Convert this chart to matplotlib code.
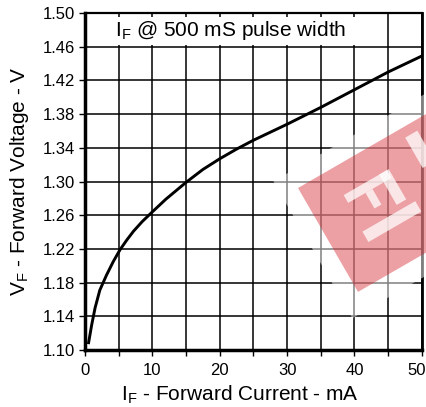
import numpy as np
import matplotlib
matplotlib.use('Agg')
import matplotlib.pyplot as plt
from matplotlib.patches import Polygon, Rectangle
from matplotlib.transforms import ScaledTranslation

plt.rcParams['font.family'] = ['Liberation Sans', 'DejaVu Sans']
plt.rcParams['mathtext.fontset'] = 'custom'
plt.rcParams['mathtext.rm'] = 'Liberation Sans'

# forward current (mA) vs forward voltage (V)
current = [0.5, 1.0, 1.5, 2.2, 3.2, 4.2, 5.2, 6.2, 7.2, 8.5, 10.0, 12.0,
           15.0, 17.5, 20.0, 22.5, 25.0, 30.0, 35.0, 40.0, 45.0, 50.0]
voltage = [1.107, 1.130, 1.150, 1.171, 1.189, 1.205, 1.219, 1.2305, 1.241,
           1.2525, 1.264, 1.279, 1.299, 1.3143, 1.327, 1.3385, 1.349, 1.368,
           1.388, 1.409, 1.430, 1.449]

x_ticks = [0, 10, 20, 30, 40, 50]
x_minor = [5, 15, 25, 35, 45]
y_ticks = [1.10, 1.14, 1.18, 1.22, 1.26, 1.30, 1.34, 1.38, 1.42, 1.46, 1.50]
note = r'I$_{\rm F}$ @ 500 mS pulse width'


def rot_rect(a0, a1, b0, b1):
    # corners of a rectangle in the tilted watermark frame, in figure pixels
    L = np.array([298.0, 188.0])
    u = np.array([0.866, -0.5])
    v = np.array([0.5, 0.866])
    pts = [L + a * u + b * v for a, b in [(a0, b0), (a1, b0), (a1, b1), (a0, b1)]]
    return [(p[0] / 427, 1 - p[1] / 407) for p in pts]


def main():
    fig = plt.figure(figsize=(4.27, 4.07), dpi=100)
    ax = fig.add_axes([0.199, 0.140, 0.789, 0.828])

    ax.plot(current, voltage, color='black', lw=2.1, zorder=4,
            solid_capstyle='butt', solid_joinstyle='round')

    ax.set_xlim(0, 50)
    ax.set_ylim(1.10, 1.50)
    ax.set_xticks(x_ticks)
    ax.set_xticks(x_minor, minor=True)
    ax.set_yticks(y_ticks)
    ax.set_yticklabels(['%.2f' % t for t in y_ticks])
    ax.tick_params(which='both', direction='out', length=4, width=1.0,
                   labelsize=12, pad=3)
    ax.tick_params(axis='x', pad=5)
    ax.set_axisbelow(True)
    ax.grid(True, which='both', color='black', lw=1.1)

    # last x label sits a bit left so it stays inside the picture
    last = ax.get_xticklabels()[-1]
    last.set_transform(last.get_transform() +
                       ScaledTranslation(-4 / 72, 0, fig.dpi_scale_trans))

    for side, w in [('left', 2.5), ('bottom', 2.5), ('top', 1.6), ('right', 2.0)]:
        ax.spines[side].set_linewidth(w)
        ax.spines[side].set_zorder(6)

    ax.set_xlabel(r'I$_{\rm F}$ - Forward Current - mA', fontsize=15)
    ax.set_ylabel(r'V$_{\rm F}$ - Forward Voltage - V', fontsize=15)
    ax.xaxis.set_label_coords(0.46, -0.1)
    ax.yaxis.set_label_coords(-0.16, 0.5)

    ax.add_patch(Rectangle((4.15, 1.462), 36.95, 0.0338, fc='white',
                           ec='none', zorder=2))
    ax.text(4.4, 1.479, note, fontsize=15, va='center', ha='left', zorder=3)

    # semi transparent watermark
    fig.patches.append(Polygon(rot_rect(-18, 210, -18, 140), closed=True,
                               transform=fig.transFigure, fc='white',
                               ec='none', alpha=0.5, zorder=10))
    fig.patches.append(Polygon(rot_rect(0, 190, 0, 120), closed=True,
                               transform=fig.transFigure, fc='#d21e28',
                               ec='none', alpha=0.42, zorder=11))
    for a0, a1, b0, b1 in [(36, 86, 29, 38), (56, 64, 38, 56), (77, 88, 29, 64),
                           (34, 95, 70, 82), (118, 132, 10, 45)]:
        fig.patches.append(Polygon(rot_rect(a0, a1, b0, b1), closed=True,
                                   transform=fig.transFigure, fc='white',
                                   ec='none', alpha=0.75, zorder=12))

    fig.savefig('out.png', dpi=100)


if __name__ == '__main__':
    main()
